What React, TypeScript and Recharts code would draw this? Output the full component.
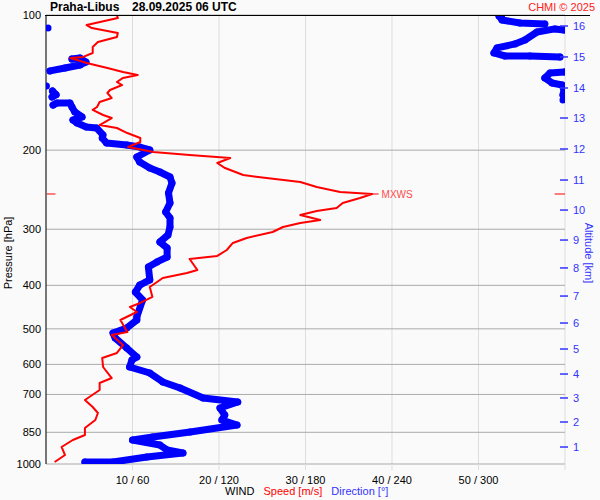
import React from 'react';
import { ScatterChart, Scatter, XAxis, YAxis, CartesianGrid, ReferenceLine } from 'recharts';

// sounding Praha-Libus 28.09.2025 06 UTC
const pressureTicks = [100, 200, 300, 400, 500, 600, 700, 850, 925, 1000];
const speedTicks = [10, 20, 30, 40, 50, 60];
const altitudeKm = [1, 2, 3, 4, 5, 6, 7, 8, 9, 10, 11, 12, 13, 14, 15, 16];
const altitudePressure = [916.6, 806.3, 712.8, 630.4, 554.5, 485.3, 422.6, 365.9, 317.1, 271.9, 233.1, 198.8, 169.6, 145.4, 124.0, 105.8];

// wind speed [m/s] by pressure [hPa]
const speedProfile = [
  { p: 100, s: 8.2 }, { p: 101.6, s: 8.3 }, { p: 105.3, s: 4.7 }, { p: 106.9, s: 5.3 },
  { p: 109.7, s: 8.3 }, { p: 111.9, s: 8.2 }, { p: 114.9, s: 6.0 }, { p: 117.8, s: 5.4 },
  { p: 121.5, s: 5.4 }, { p: 124.0, s: 4.3 }, { p: 124.7, s: 2.8 }, { p: 126.0, s: 3.6 },
  { p: 127.9, s: 4.7 }, { p: 131.2, s: 7.1 }, { p: 133.9, s: 8.9 }, { p: 136.0, s: 10.6 },
  { p: 138.1, s: 8.9 }, { p: 141.0, s: 8.2 }, { p: 143.2, s: 8.8 }, { p: 146.9, s: 7.4 },
  { p: 149.2, s: 7.1 }, { p: 153.1, s: 7.6 }, { p: 156.2, s: 6.2 }, { p: 160.3, s: 5.9 },
  { p: 162.7, s: 5.4 }, { p: 167.0, s: 6.6 }, { p: 169.6, s: 7.6 }, { p: 175.8, s: 6.2 },
  { p: 178.5, s: 8.2 }, { p: 183.2, s: 9.4 }, { p: 187.9, s: 10.9 }, { p: 191.8, s: 10.9 },
  { p: 196.8, s: 9.5 }, { p: 201.9, s: 12.4 }, { p: 205.0, s: 16.6 }, { p: 208.2, s: 21.3 },
  { p: 213.6, s: 19.8 }, { p: 219.2, s: 20.7 }, { p: 227.2, s: 22.8 }, { p: 230.7, s: 25.5 },
  { p: 235.5, s: 29.4 }, { p: 241.6, s: 31.3 }, { p: 247.9, s: 34.0 }, { p: 250.4, s: 37.7 },
  { p: 255.6, s: 36.3 }, { p: 262.2, s: 34.3 }, { p: 269.0, s: 33.6 }, { p: 273.2, s: 31.3 },
  { p: 278.8, s: 29.4 }, { p: 286.1, s: 31.7 }, { p: 290.6, s: 29.4 }, { p: 296.6, s: 27.4 },
  { p: 304.3, s: 26.2 }, { p: 313.8, s: 23.2 }, { p: 321.9, s: 21.6 }, { p: 333.7, s: 20.9 },
  { p: 344.1, s: 19.8 }, { p: 349.4, s: 16.6 }, { p: 369.8, s: 17.5 }, { p: 375.5, s: 16.3 },
  { p: 385.2, s: 13.5 }, { p: 403.4, s: 12.0 }, { p: 424.6, s: 12.3 }, { p: 437.9, s: 10.9 },
  { p: 447.0, s: 9.7 }, { p: 458.6, s: 10.5 }, { p: 477.8, s: 8.6 }, { p: 508.2, s: 9.4 },
  { p: 516.1, s: 7.6 }, { p: 543.3, s: 8.9 }, { p: 565.9, s: 8.2 }, { p: 580.6, s: 6.5 },
  { p: 608.1, s: 6.6 }, { p: 643.4, s: 7.6 }, { p: 660.1, s: 6.2 }, { p: 684.2, s: 6.2 },
  { p: 720.2, s: 4.5 }, { p: 746.5, s: 5.4 }, { p: 769.8, s: 6.0 }, { p: 798.0, s: 5.7 },
  { p: 831.4, s: 4.5 }, { p: 861.8, s: 4.5 }, { p: 884.1, s: 3.1 }, { p: 916.4, s: 1.8 },
  { p: 955.0, s: 2.2 }, { p: 989.7, s: 1.0 },
];

// wind direction [deg], split where it wraps round north
const dirMain = [
  { p: 989.7, d: 27 }, { p: 989.7, d: 46.5 }, { p: 964.7, d: 70 }, { p: 945.1, d: 95 },
  { p: 930.7, d: 84 }, { p: 907.2, d: 79 }, { p: 884.1, d: 60 }, { p: 870.7, d: 74 },
  { p: 848.6, d: 100 }, { p: 818.6, d: 132.5 }, { p: 798.0, d: 122 }, { p: 777.8, d: 124 },
  { p: 750.3, d: 120.7 }, { p: 727.7, d: 133 }, { p: 712.9, d: 109 }, { p: 677.2, d: 93 },
  { p: 656.7, d: 81 }, { p: 627.1, d: 72 }, { p: 608.1, d: 58 }, { p: 586.7, d: 59.6 },
  { p: 577.8, d: 63 }, { p: 551.6, d: 56 }, { p: 524.1, d: 48 }, { p: 510.8, d: 46.5 },
  { p: 497.9, d: 56 }, { p: 477.8, d: 63 }, { p: 470.5, d: 63 }, { p: 431.2, d: 67 },
  { p: 414.0, d: 62 }, { p: 399.5, d: 65 }, { p: 389.2, d: 72 }, { p: 364.0, d: 71 },
  { p: 354.8, d: 77 }, { p: 345.9, d: 84 }, { p: 330.3, d: 84 }, { p: 320.3, d: 79 },
  { p: 309.0, d: 84.6 }, { p: 296.6, d: 86 }, { p: 283.3, d: 86 }, { p: 274.7, d: 83 },
  { p: 262.2, d: 86 }, { p: 249.1, d: 85 }, { p: 236.7, d: 87.4 }, { p: 229.5, d: 86 },
  { p: 223.7, d: 79 }, { p: 219.2, d: 72 }, { p: 212.5, d: 65 }, { p: 207.1, d: 63 },
  { p: 199.8, d: 72 }, { p: 196.8, d: 65 }, { p: 194.8, d: 56 }, { p: 192.8, d: 42 },
  { p: 187.9, d: 39 }, { p: 185.0, d: 39.5 }, { p: 178.5, d: 35 }, { p: 177.6, d: 28 },
  { p: 174.0, d: 21.5 }, { p: 171.3, d: 18.7 }, { p: 168.7, d: 25 }, { p: 164.4, d: 20 },
  { p: 160.3, d: 18 }, { p: 157.0, d: 16.6 }, { p: 157.0, d: 7.6 }, { p: 158.7, d: 4.9 },
];
const dirBlob = [{ p: 152.3, d: 4.2 }, { p: 150.5, d: 7.0 }, { p: 147.7, d: 4.5 }];
const dirNorthEast = [
  { p: 133.2, d: 2.8 }, { p: 131.2, d: 13.2 }, { p: 129.2, d: 23.6 }, { p: 127.3, d: 27.7 },
  { p: 124.7, d: 23.6 }, { p: 125.3, d: 18 },
];
const dirHook = [
  { p: 133.9, d: 359.5 }, { p: 134.6, d: 349.6 }, { p: 138.1, d: 346 }, { p: 141.7, d: 351 },
  { p: 143.2, d: 358 }, { p: 146.9, d: 359.3 }, { p: 150.7, d: 358.6 },
];
const dirWave = [
  { p: 124.0, d: 356.5 }, { p: 123.4, d: 335.7 }, { p: 123.4, d: 318.4 }, { p: 121.5, d: 310.7 },
  { p: 118.4, d: 312.8 }, { p: 116.0, d: 325.3 }, { p: 113.7, d: 332.2 }, { p: 109.1, d: 340.6 },
  { p: 107.4, d: 353 }, { p: 108.0, d: 359.3 },
];
const dirTop = [
  { p: 104.7, d: 346 }, { p: 104.2, d: 328.8 }, { p: 102.6, d: 316.3 }, { p: 100.5, d: 314.2 },
  { p: 100, d: 316 },
];
const dirSingles = [{ p: 106.9, d: 1.4 }, { p: 143.9, d: 0.3 }, { p: 154.6, d: 358.6 }];

const maxWind = { p: 250.4, s: 37.7 };

const RED = '#ff0000';
const BLUE = '#0000ff';
const LABEL_BLUE = '#3333ff';

const noDot = () => <g />;
const blueDot = (props: any) => <circle cx={props.cx} cy={props.cy} r={3.5} fill={BLUE} />;

const AltTick = (props: any) => {
  const { x, y, index } = props;
  return (
    <g>
      <line x1={x - 13} x2={x - 5} y1={y} y2={y} stroke={LABEL_BLUE} strokeWidth={1.5} />
      <text x={x} y={y} dy="0.35em" fill={LABEL_BLUE} fontSize={11} textAnchor="start">
        {altitudeKm[index]}
      </text>
    </g>
  );
};

const dirSegments = [dirMain, dirBlob, dirNorthEast, dirHook, dirWave, dirTop];

export default function App() {
  return (
    <div
      style={{
        position: 'absolute',
        left: 0,
        top: 0,
        width: 600,
        height: 500,
        background: '#fafafa',
        fontFamily: '"Liberation Sans", Arial, sans-serif',
      }}
    >
      <ScatterChart width={600} height={500} margin={{ top: 15, right: 0, bottom: 0, left: 0 }}>
        <CartesianGrid xAxisId="spd" yAxisId="p" horizontal={false} vertical stroke="#dddddd" />
        <CartesianGrid xAxisId="spd" yAxisId="p" horizontal vertical={false} stroke="#aaaaaa" />
        <XAxis
          xAxisId="dir"
          type="number"
          dataKey="d"
          domain={[0, 360]}
          allowDataOverflow
          hide
          height={0}
        />
        <XAxis
          xAxisId="spd"
          type="number"
          dataKey="s"
          domain={[0, 60]}
          ticks={speedTicks}
          allowDataOverflow
          height={36}
          axisLine={false}
          tickLine={{ stroke: '#dddddd' }}
          tickSize={6}
          tickMargin={6}
          tick={{ fill: '#000', fontSize: 11 }}
          tickFormatter={(v: number) => (v === 60 ? '' : `${v} / ${v * 6}`)}
        />
        <YAxis
          yAxisId="p"
          type="number"
          dataKey="p"
          scale="log"
          domain={[100, 1000]}
          ticks={pressureTicks}
          reversed
          allowDataOverflow
          width={46}
          axisLine={{ stroke: '#000' }}
          tickLine={false}
          tickSize={0}
          tickMargin={5}
          tick={{ fill: '#000', fontSize: 11 }}
          label={{
            content: ({ viewBox }: any) => (
              <text
                x={8}
                y={viewBox.y + viewBox.height * 0.53}
                transform={`rotate(-90 8 ${viewBox.y + viewBox.height * 0.53})`}
                textAnchor="middle"
                dominantBaseline="central"
                fontSize={11}
                fill="#000"
              >
                Pressure [hPa]
              </text>
            ),
          }}
        />
        <YAxis
          yAxisId="alt"
          orientation="right"
          type="number"
          scale="log"
          domain={[100, 1000]}
          ticks={altitudePressure}
          reversed
          allowDataOverflow
          width={35}
          axisLine={false}
          tickLine={false}
          tickSize={6}
          tickMargin={2}
          tick={<AltTick />}
          label={{
            content: ({ viewBox }: any) => {
              const cx = viewBox.x + 24;
              const cy = viewBox.y + viewBox.height * 0.53;
              return (
                <text
                  x={cx}
                  y={cy}
                  transform={`rotate(90 ${cx} ${cy})`}
                  textAnchor="middle"
                  dominantBaseline="central"
                  fontSize={11}
                  fill={LABEL_BLUE}
                >
                  Altitude [km]
                </text>
              );
            },
          }}
        />

        {dirSegments.map((seg, i) => (
          <Scatter
            key={`dir-${i}`}
            xAxisId="dir"
            yAxisId="p"
            data={seg}
            fill={BLUE}
            line={{ stroke: BLUE, strokeWidth: 7, strokeLinejoin: 'round', strokeLinecap: 'round' }}
            shape={blueDot}
            isAnimationActive={false}
          />
        ))}
        <Scatter
          xAxisId="dir"
          yAxisId="p"
          data={dirSingles}
          fill={BLUE}
          shape={blueDot}
          isAnimationActive={false}
        />

        <Scatter
          xAxisId="spd"
          yAxisId="p"
          data={speedProfile}
          fill={RED}
          line={{ stroke: RED, strokeWidth: 2, strokeLinejoin: 'round' }}
          shape={noDot}
          isAnimationActive={false}
        />

        <ReferenceLine
          xAxisId="spd"
          yAxisId="p"
          segment={[{ x: 0.1, y: maxWind.p }, { x: 1.1, y: maxWind.p }]}
          stroke={RED}
        />
        <ReferenceLine
          xAxisId="spd"
          yAxisId="p"
          segment={[{ x: 58.8, y: maxWind.p }, { x: 60, y: maxWind.p }]}
          stroke={RED}
        />
        <ReferenceLine
          xAxisId="spd"
          yAxisId="p"
          segment={[{ x: maxWind.s, y: maxWind.p }, { x: maxWind.s + 0.75, y: maxWind.p }]}
          stroke={RED}
          label={{ value: 'MXWS', position: 'right', fill: '#ff4a4a', fontSize: 10, offset: 3 }}
        />
      </ScatterChart>

      <div style={{ position: 'absolute', left: 45, top: 15, width: 545, height: 1, background: '#000' }} />
      <div style={{ position: 'absolute', left: 50, top: 0, fontSize: 12, fontWeight: 'bold', lineHeight: '14px' }}>
        Praha-Libus
      </div>
      <div style={{ position: 'absolute', left: 132, top: 0, fontSize: 12, fontWeight: 'bold', lineHeight: '14px' }}>
        28.09.2025 06 UTC
      </div>
      <div style={{ position: 'absolute', right: 5, top: 0, fontSize: 11, color: '#ff2020', lineHeight: '14px' }}>
        CHMI © 2025
      </div>
      <div style={{ position: 'absolute', left: 225, top: 484, fontSize: 11, lineHeight: '14px', whiteSpace: 'pre' }}>
        <span style={{ color: '#000' }}>WIND</span>
        <span style={{ color: RED }}>{'   Speed [m/s]'}</span>
        <span style={{ color: LABEL_BLUE }}>{'   Direction [°]'}</span>
      </div>
    </div>
  );
}
